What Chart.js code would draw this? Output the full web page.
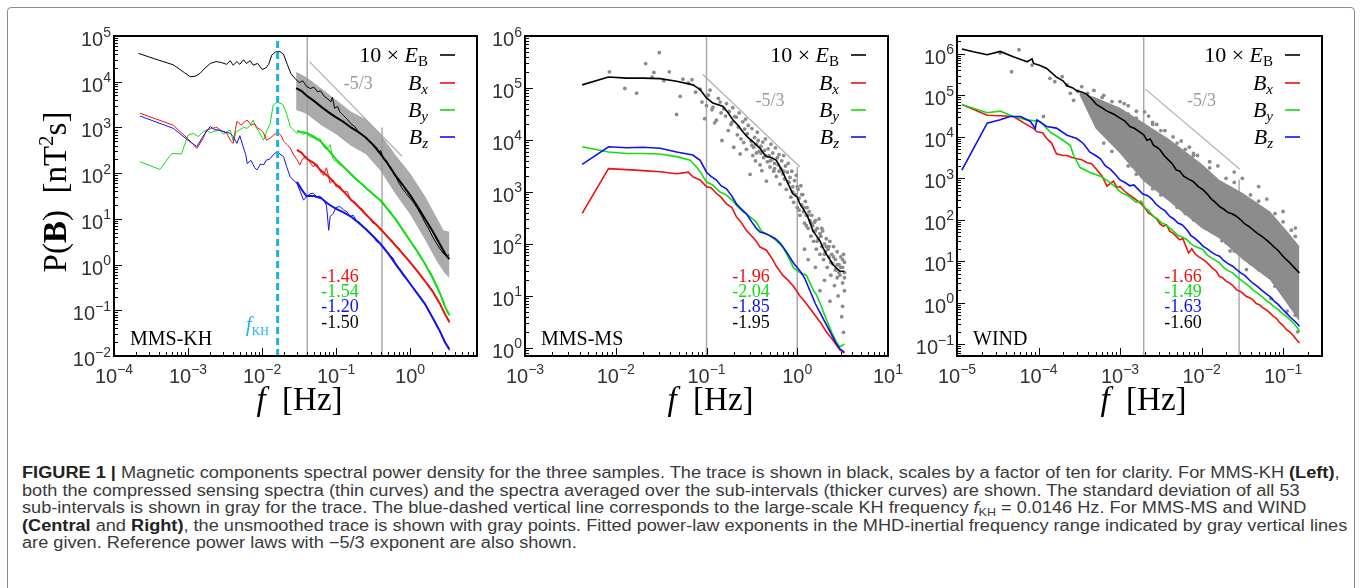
<!DOCTYPE html>
<html>
<head>
<meta charset="utf-8">
<script src="https://cdn.jsdelivr.net/npm/chart.js@4/dist/chart.umd.min.js"></script>
<style>
body { margin: 0; background: #fff; width: 1363px; height: 588px; overflow: hidden; position: relative; }
#frame { position: absolute; left: 7px; top: 7px; width: 1346px; height: 600px; border: 1.5px solid #8a8a8a; border-radius: 4px; }
canvas { position: absolute; top: 8px; }
#c1 { left: 8px; }
#c2 { left: 488px; }
#c3 { left: 912px; }
#caption { position: absolute; left: 22px; top: 464px; font-family: "Liberation Sans", Arial, sans-serif; font-size: 16px; line-height: 17.5px; color: #3a3a3a; white-space: nowrap; transform: scaleX(1.135); transform-origin: 0 0; }
#caption b { color: #222; }
#caption sub { font-size: 11px; line-height: 0; vertical-align: -3px; }
</style>
</head>
<body>
<div id="frame"></div>
<canvas id="c1" width="480" height="414"></canvas>
<canvas id="c2" width="424" height="414"></canvas>
<canvas id="c3" width="440" height="414"></canvas>
<div id="caption">
<div><b>FIGURE 1 |</b> Magnetic components spectral power density for the three samples. The trace is shown in black, scales by a factor of ten for clarity. For MMS-KH <b>(Left)</b>,</div>
<div>both the compressed sensing spectra (thin curves) and the spectra averaged over the sub-intervals (thicker curves) are shown. The standard deviation of all 53</div>
<div>sub-intervals is shown in gray for the trace. The blue-dashed vertical line corresponds to the large-scale KH frequency <i>f</i><sub>KH</sub> = 0.0146 Hz. For MMS-MS and WIND</div>
<div><b>(Central</b> and <b>Right)</b>, the unsmoothed trace is shown with gray points. Fitted power-law exponents in the MHD-inertial frequency range indicated by gray vertical lines</div>
<div>are given. Reference power laws with −5/3 exponent are also shown.</div>
</div>
<script>
// all series are [log10 f, log10 P]

// ---- MMS-KH (left) ----
var khTraceThin = [[-3.67,4.62],[-3.45,4.50],[-3.20,4.37],[-3.05,4.20],[-2.97,4.11],[-2.90,4.12],[-2.84,4.18],[-2.77,4.30],[-2.70,4.40],[-2.62,4.44],[-2.55,4.42],[-2.48,4.38],[-2.43,4.46],[-2.39,4.36],[-2.34,4.44],[-2.30,4.38],[-2.25,4.48],[-2.21,4.40],[-2.16,4.46],[-2.12,4.36],[-2.06,4.40],[-2.00,4.27],[-1.95,4.30],[-1.91,4.38],[-1.87,4.58],[-1.82,4.65],[-1.76,4.66],[-1.71,4.60],[-1.66,4.38],[-1.61,4.18],[-1.56,4.08],[-1.50,3.98],[-1.45,4.02],[-1.40,3.90],[-1.35,3.85],[-1.30,3.88],[-1.25,3.78],[-1.21,3.80],[-1.16,3.68],[-1.11,3.62],[-1.07,3.56],[-1.05,3.66],[-1.02,3.42],[-0.98,3.46],[-0.95,3.34],[-0.90,3.26],[-0.85,3.18],[-0.80,3.08],[-0.75,3.02],[-0.70,2.91],[-0.65,2.85],[-0.60,2.77],[-0.55,2.70],[-0.50,2.63],[-0.45,2.56],[-0.42,2.44],[-0.40,2.50],[-0.37,2.36],[-0.35,2.32],[-0.32,2.28],[-0.30,2.20],[-0.25,2.10],[-0.20,1.95],[-0.15,1.78],[-0.10,1.65],[-0.05,1.55],[0.00,1.45],[0.05,1.35],[0.10,1.22],[0.15,1.08],[0.20,0.92],[0.25,0.78],[0.30,0.62],[0.35,0.48],[0.40,0.35],[0.45,0.24],[0.50,0.18],[0.53,0.22]];
var khTraceAvg = [[-1.54,3.86],[-1.47,3.80],[-1.40,3.70],[-1.30,3.58],[-1.20,3.45],[-1.10,3.33],[-1.00,3.22],[-0.90,3.12],[-0.80,3.00],[-0.70,2.90],[-0.60,2.78],[-0.50,2.62],[-0.40,2.42],[-0.30,2.20],[-0.20,1.95],[-0.10,1.74],[0.00,1.52],[0.10,1.27],[0.20,1.00],[0.30,0.74],[0.40,0.45],[0.47,0.24],[0.53,0.12]];
var khTraceHi = [[-1.54,4.22],[-1.40,4.10],[-1.20,3.85],[-1.00,3.60],[-0.80,3.35],[-0.60,3.18],[-0.40,2.85],[-0.20,2.40],[0.00,2.00],[0.20,1.50],[0.35,1.05],[0.45,0.75],[0.53,0.72]];
var khTraceLo = [[-1.54,3.38],[-1.40,3.30],[-1.20,3.05],[-1.00,2.85],[-0.80,2.60],[-0.60,2.42],[-0.40,2.05],[-0.20,1.55],[0.00,1.10],[0.20,0.55],[0.35,0.10],[0.45,-0.15],[0.53,-0.30]];
var khBxThin = [[-3.65,3.31],[-3.20,3.05],[-3.00,2.75],[-2.88,2.54],[-2.80,2.75],[-2.75,2.94],[-2.68,2.98],[-2.61,3.00],[-2.55,2.92],[-2.48,2.88],[-2.43,2.72],[-2.39,2.65],[-2.36,2.95],[-2.34,3.13],[-2.28,3.05],[-2.24,3.12],[-2.20,3.16],[-2.15,3.05],[-2.10,3.08],[-2.07,3.00],[-2.02,2.95],[-1.98,2.88],[-1.94,2.72],[-1.88,2.78],[-1.83,2.85],[-1.78,2.88],[-1.74,2.82],[-1.71,2.70],[-1.66,2.62],[-1.62,2.55],[-1.58,2.42],[-1.53,2.30],[-1.49,2.18],[-1.45,2.32],[-1.40,2.36],[-1.36,2.25],[-1.31,2.14],[-1.26,2.20],[-1.22,2.05],[-1.17,1.95],[-1.13,2.12],[-1.08,1.78],[-1.04,1.85],[-1.00,1.70],[-0.95,1.72],[-0.90,1.58],[-0.85,1.60],[-0.80,1.40],[-0.75,1.38],[-0.70,1.25],[-0.65,1.22],[-0.60,1.08],[-0.55,1.02],[-0.50,0.90],[-0.45,0.88],[-0.40,0.75],[-0.35,0.70],[-0.30,0.58],[-0.25,0.54],[-0.20,0.42],[-0.15,0.36],[-0.10,0.22],[-0.05,0.16],[0.00,0.05],[0.05,-0.05],[0.10,-0.16],[0.15,-0.25],[0.20,-0.36],[0.25,-0.45],[0.30,-0.56],[0.35,-0.70],[0.40,-0.85],[0.45,-1.02],[0.50,-1.18],[0.53,-1.28]];
var khByThin = [[-3.65,2.25],[-3.38,2.08],[-3.22,2.43],[-3.09,2.42],[-3.00,2.83],[-2.93,2.87],[-2.86,2.80],[-2.80,2.90],[-2.75,2.94],[-2.70,2.88],[-2.64,2.92],[-2.57,2.94],[-2.52,2.85],[-2.46,2.92],[-2.43,2.94],[-2.39,2.70],[-2.35,2.90],[-2.30,2.95],[-2.25,3.00],[-2.20,2.98],[-2.16,3.05],[-2.12,3.16],[-2.08,3.00],[-2.04,2.90],[-1.98,2.72],[-1.93,2.95],[-1.89,3.09],[-1.85,3.49],[-1.80,3.55],[-1.76,3.53],[-1.72,3.50],[-1.69,3.40],[-1.65,3.20],[-1.62,3.02],[-1.58,2.95],[-1.53,2.87],[-1.49,2.92],[-1.45,2.85],[-1.40,2.88],[-1.36,2.80],[-1.31,2.78],[-1.26,2.72],[-1.22,2.76],[-1.17,2.58],[-1.13,2.52],[-1.08,2.62],[-1.04,2.30],[-1.00,2.25],[-0.95,2.18],[-0.90,2.15],[-0.85,2.05],[-0.81,1.98],[-0.76,1.90],[-0.72,1.88],[-0.67,1.78],[-0.63,1.75],[-0.58,1.66],[-0.54,1.62],[-0.49,1.52],[-0.45,1.48],[-0.40,1.40],[-0.36,1.36],[-0.31,1.22],[-0.27,1.18],[-0.22,1.02],[-0.18,0.98],[-0.13,0.82],[-0.09,0.75],[-0.04,0.60],[0.00,0.52],[0.05,0.38],[0.09,0.30],[0.14,0.15],[0.18,0.08],[0.23,-0.08],[0.27,-0.15],[0.32,-0.32],[0.36,-0.45],[0.41,-0.65],[0.45,-0.80],[0.50,-1.05],[0.53,-1.12]];
var khBzThin = [[-3.65,3.25],[-3.20,2.98],[-3.00,2.72],[-2.88,2.58],[-2.80,2.80],[-2.70,3.02],[-2.64,2.95],[-2.57,2.94],[-2.50,2.90],[-2.43,2.87],[-2.39,2.80],[-2.34,2.65],[-2.30,2.82],[-2.26,2.60],[-2.22,2.40],[-2.20,2.21],[-2.15,2.28],[-2.10,2.12],[-2.07,2.07],[-2.02,2.20],[-1.98,2.18],[-1.94,2.29],[-1.90,2.30],[-1.85,2.40],[-1.80,2.47],[-1.76,2.42],[-1.71,2.36],[-1.67,2.15],[-1.62,1.92],[-1.58,1.85],[-1.53,1.78],[-1.49,1.62],[-1.44,1.41],[-1.40,1.48],[-1.35,1.55],[-1.31,1.56],[-1.26,1.48],[-1.22,1.50],[-1.17,1.41],[-1.13,1.30],[-1.10,0.75],[-1.08,1.05],[-1.04,1.12],[-1.00,1.25],[-0.95,1.27],[-0.90,1.20],[-0.85,1.15],[-0.81,1.05],[-0.77,1.08],[-0.72,0.95],[-0.68,0.92],[-0.63,0.82],[-0.59,0.78],[-0.54,0.68],[-0.50,0.62],[-0.45,0.50],[-0.41,0.48],[-0.36,0.38],[-0.32,0.30],[-0.27,0.20],[-0.23,0.14],[-0.18,-0.05],[-0.14,-0.12],[-0.09,-0.25],[-0.05,-0.32],[0.00,-0.42],[0.04,-0.50],[0.09,-0.62],[0.13,-0.70],[0.18,-0.82],[0.22,-0.92],[0.27,-1.08],[0.31,-1.18],[0.36,-1.35],[0.40,-1.45],[0.45,-1.62],[0.49,-1.75],[0.53,-1.88]];
var khBxAvg = [[-1.53,2.51],[-1.47,2.45],[-1.40,2.32],[-1.30,2.22],[-1.20,2.05],[-1.10,1.92],[-1.00,1.75],[-0.90,1.60],[-0.80,1.42],[-0.70,1.27],[-0.60,1.10],[-0.50,0.94],[-0.40,0.78],[-0.30,0.60],[-0.20,0.42],[-0.10,0.24],[0.00,0.05],[0.10,-0.15],[0.20,-0.36],[0.30,-0.58],[0.40,-0.85],[0.47,-1.08],[0.53,-1.25]];
var khByAvg = [[-1.53,2.92],[-1.47,2.90],[-1.40,2.88],[-1.30,2.80],[-1.20,2.68],[-1.10,2.50],[-1.00,2.30],[-0.90,2.14],[-0.80,1.98],[-0.70,1.83],[-0.60,1.68],[-0.50,1.54],[-0.40,1.40],[-0.30,1.20],[-0.20,1.00],[-0.10,0.76],[0.00,0.52],[0.10,0.28],[0.20,0.02],[0.30,-0.28],[0.40,-0.62],[0.47,-0.92],[0.53,-1.10]];
var khBzAvg = [[-1.53,1.81],[-1.47,1.65],[-1.40,1.50],[-1.30,1.50],[-1.20,1.45],[-1.10,1.32],[-1.00,1.22],[-0.90,1.14],[-0.80,1.05],[-0.70,0.92],[-0.60,0.78],[-0.50,0.62],[-0.40,0.45],[-0.30,0.25],[-0.20,0.02],[-0.10,-0.20],[0.00,-0.42],[0.10,-0.64],[0.20,-0.86],[0.30,-1.15],[0.40,-1.45],[0.47,-1.70],[0.53,-1.85]];
var khFitLow = [[-1.39,-2],[-1.39,5]];
var khFitHigh = [[-0.38,-2],[-0.38,3.0]];
var khRefLaw = [[-1.36,4.44],[-0.11,2.37]];
var khKH = [[-1.79,-2],[-1.79,5]];
var khXTicks = [-4, -3, -2, -1, 0];
var khYTicks = [-2, -1, 0, 1, 2, 3, 4, 5];
var khFits = ['-1.46', '-1.54', '-1.20', '-1.50'];

// ---- MMS-MS (central) ----
var msTrace = [[-2.37,5.06],[-2.08,5.21],[-1.88,5.19],[-1.70,5.19],[-1.51,5.18],[-1.33,5.13],[-1.15,5.06],[-1.07,4.97],[-1.00,4.81],[-0.93,4.71],[-0.82,4.65],[-0.76,4.52],[-0.71,4.39],[-0.65,4.28],[-0.60,4.16],[-0.55,4.06],[-0.49,3.97],[-0.45,3.90],[-0.41,3.84],[-0.37,3.74],[-0.34,3.68],[-0.28,3.66],[-0.23,3.61],[-0.17,3.42],[-0.12,3.23],[-0.08,3.08],[-0.05,2.97],[0.00,2.90],[0.03,2.77],[0.07,2.66],[0.10,2.58],[0.14,2.42],[0.17,2.26],[0.21,2.16],[0.25,2.06],[0.28,1.94],[0.32,1.81],[0.36,1.70],[0.39,1.61],[0.43,1.54],[0.47,1.48],[0.52,1.47]];
var msBx = [[-2.37,2.59],[-2.08,3.45],[-1.88,3.43],[-1.70,3.41],[-1.51,3.39],[-1.33,3.35],[-1.20,3.38],[-1.15,3.29],[-1.07,3.23],[-1.00,3.10],[-0.95,3.08],[-0.89,2.97],[-0.84,2.90],[-0.78,2.77],[-0.72,2.70],[-0.67,2.52],[-0.62,2.42],[-0.56,2.26],[-0.50,2.15],[-0.45,2.05],[-0.41,1.94],[-0.34,1.88],[-0.27,1.70],[-0.23,1.57],[-0.16,1.40],[-0.10,1.30],[-0.04,1.18],[0.03,1.00],[0.08,0.90],[0.14,0.76],[0.20,0.62],[0.26,0.48],[0.32,0.31],[0.38,0.18],[0.43,0.06],[0.47,-0.04],[0.52,-0.10]];
var msBy = [[-2.37,3.87],[-2.08,3.77],[-1.88,3.74],[-1.70,3.74],[-1.51,3.73],[-1.33,3.68],[-1.18,3.61],[-1.11,3.48],[-1.07,3.39],[-1.00,3.19],[-0.96,3.16],[-0.93,3.13],[-0.85,3.00],[-0.78,2.94],[-0.72,2.85],[-0.67,2.74],[-0.60,2.62],[-0.56,2.58],[-0.49,2.48],[-0.45,2.42],[-0.40,2.26],[-0.38,2.23],[-0.30,2.15],[-0.24,2.08],[-0.16,1.95],[-0.10,1.75],[-0.04,1.54],[0.03,1.45],[0.10,1.40],[0.14,1.25],[0.18,1.10],[0.21,1.03],[0.26,0.82],[0.32,0.55],[0.38,0.30],[0.43,0.12],[0.47,0.02],[0.52,0.08]];
var msBz = [[-2.37,3.53],[-2.08,3.87],[-1.88,3.85],[-1.70,3.86],[-1.51,3.84],[-1.33,3.77],[-1.15,3.71],[-1.07,3.61],[-1.00,3.38],[-0.95,3.30],[-0.89,3.23],[-0.84,3.12],[-0.78,3.06],[-0.72,2.92],[-0.67,2.77],[-0.61,2.66],[-0.56,2.58],[-0.50,2.42],[-0.45,2.30],[-0.41,2.23],[-0.35,2.20],[-0.30,2.16],[-0.24,2.10],[-0.19,2.02],[-0.12,1.85],[-0.04,1.63],[0.03,1.48],[0.08,1.35],[0.14,1.10],[0.20,0.85],[0.26,0.65],[0.32,0.45],[0.38,0.25],[0.43,0.08],[0.47,-0.02],[0.52,-0.08]];
var msRaw = [[-2.07,5.31],[-1.90,4.99],[-1.77,4.90],[-1.67,5.47],[-1.60,5.21],[-1.58,5.30],[-1.52,5.68],[-1.47,5.14],[-1.41,5.31],[-1.33,4.49],[-1.29,4.84],[-1.26,5.17],[-1.20,5.10],[-1.16,5.16],[-1.12,4.92],[-1.07,4.98],[-1.05,4.73],[-1.02,4.41],[-1.00,4.66],[-0.98,4.86],[-0.96,4.96],[-0.94,4.58],[-0.93,4.63],[-0.91,4.33],[-0.89,4.38],[-0.87,4.80],[-0.85,4.73],[-0.84,4.52],[-0.83,3.99],[-0.81,4.60],[-0.79,4.46],[-0.78,4.70],[-0.76,4.18],[-0.75,4.55],[-0.73,4.30],[-0.72,4.34],[-0.71,4.62],[-0.70,3.86],[-0.69,4.45],[-0.67,4.44],[-0.66,4.10],[-0.65,4.25],[-0.64,4.52],[-0.63,3.73],[-0.62,4.02],[-0.60,4.35],[-0.59,3.95],[-0.58,4.21],[-0.57,4.40],[-0.56,3.82],[-0.55,4.12],[-0.54,4.28],[-0.52,3.34],[-0.51,3.98],[-0.50,4.22],[-0.49,3.70],[-0.48,3.86],[-0.47,4.05],[-0.46,3.60],[-0.45,3.92],[-0.44,4.15],[-0.43,3.99],[-0.42,3.78],[-0.41,3.52],[-0.40,3.88],[-0.39,3.41],[-0.38,3.96],[-0.37,3.66],[-0.36,3.80],[-0.35,4.02],[-0.34,3.21],[-0.33,3.58],[-0.32,3.83],[-0.31,3.70],[-0.30,3.48],[-0.29,3.92],[-0.28,3.62],[-0.27,3.75],[-0.26,3.40],[-0.25,3.55],[-0.24,3.85],[-0.23,3.30],[-0.22,3.66],[-0.21,3.52],[-0.20,3.72],[-0.19,3.15],[-0.18,3.45],[-0.17,3.60],[-0.16,3.35],[-0.15,3.70],[-0.14,3.25],[-0.13,3.50],[-0.12,3.05],[-0.11,3.38],[-0.10,3.55],[-0.09,3.18],[-0.08,3.28],[-0.07,2.90],[-0.06,3.40],[-0.05,3.10],[-0.04,2.80],[-0.03,3.22],[-0.02,2.95],[-0.01,3.32],[0.00,2.70],[0.01,3.05],[0.02,2.88],[0.03,2.55],[0.04,3.12],[0.05,2.75],[0.06,2.95],[0.07,2.62],[0.08,2.40],[0.09,2.82],[0.10,2.55],[0.11,2.70],[0.12,2.30],[0.13,2.62],[0.14,2.45],[0.15,2.15],[0.16,2.55],[0.17,2.35],[0.18,2.05],[0.19,2.42],[0.20,2.25],[0.21,1.90],[0.22,2.30],[0.23,2.10],[0.24,2.48],[0.25,1.80],[0.26,2.15],[0.27,1.95],[0.28,2.25],[0.29,1.70],[0.30,2.00],[0.31,1.85],[0.32,2.10],[0.33,1.55],[0.34,1.90],[0.35,1.75],[0.36,2.05],[0.37,1.40],[0.38,1.80],[0.39,1.62],[0.40,1.95],[0.41,1.20],[0.42,1.70],[0.43,1.50],[0.44,1.85],[0.45,1.00],[0.46,1.60],[0.47,1.40],[0.48,1.75],[0.49,0.60],[0.50,1.55],[0.50,1.25],[0.51,1.80],[0.51,0.30],[0.52,1.45],[0.52,1.65],[0.52,1.10],[0.08,1.90],[0.20,1.55],[0.30,1.30],[0.12,1.70],[0.25,1.10],[0.36,0.90],[0.44,1.35],[0.50,0.80],[-0.15,3.40],[-0.10,3.20],[-0.05,3.00],[0.00,3.10],[0.02,2.65],[0.05,2.95],[0.08,2.70],[0.10,2.35],[0.12,2.55],[0.15,2.40],[0.18,2.25],[0.20,2.45],[0.22,2.05],[0.25,2.20],[0.27,2.30],[0.30,1.80],[0.32,1.95],[0.35,1.95],[0.37,1.65],[0.40,1.75],[0.42,1.50],[0.44,1.60],[0.46,1.45],[0.48,1.55],[0.50,1.70],[0.52,1.35],[-0.30,3.60],[-0.25,3.45],[-0.20,3.40],[-0.35,3.70],[-0.40,3.75],[-0.45,3.75],[-0.50,3.90]];
var msFitLow = [[-1.00,-0.3],[-1.00,6]];
var msFitHigh = [[0.00,-0.3],[0.00,3.48]];
var msRefLaw = [[-1.04,5.26],[0.03,3.48]];
var msXTicks = [-3, -2, -1, 0, 1];
var msYTicks = [0, 1, 2, 3, 4, 5, 6];
var msFits = ['-1.96', '-2.04', '-1.85', '-1.95'];

// ---- WIND (right) ----
var windTrace = [[-4.94,6.12],[-4.80,6.05],[-4.63,5.98],[-4.47,6.06],[-4.31,5.93],[-4.20,5.85],[-4.14,5.81],[-4.08,5.88],[-4.06,5.77],[-3.98,5.72],[-3.90,5.65],[-3.78,5.44],[-3.70,5.35],[-3.65,5.23],[-3.58,5.18],[-3.53,5.11],[-3.47,5.08],[-3.41,5.03],[-3.35,4.92],[-3.29,4.78],[-3.22,4.70],[-3.16,4.62],[-3.08,4.55],[-3.00,4.45],[-2.94,4.38],[-2.88,4.25],[-2.82,4.20],[-2.76,4.12],[-2.71,4.05],[-2.67,3.92],[-2.63,3.95],[-2.59,3.80],[-2.55,3.75],[-2.51,3.69],[-2.46,3.55],[-2.41,3.45],[-2.36,3.35],[-2.31,3.20],[-2.27,3.18],[-2.22,3.05],[-2.16,2.98],[-2.10,2.92],[-2.04,2.80],[-1.98,2.72],[-1.93,2.62],[-1.88,2.50],[-1.83,2.42],[-1.78,2.32],[-1.73,2.26],[-1.68,2.18],[-1.62,2.14],[-1.57,2.08],[-1.52,2.00],[-1.47,1.90],[-1.42,1.84],[-1.37,1.76],[-1.32,1.68],[-1.26,1.60],[-1.21,1.52],[-1.16,1.44],[-1.11,1.34],[-1.06,1.26],[-1.01,1.14],[-0.96,1.04],[-0.91,0.95],[-0.86,0.84],[-0.82,0.76],[-0.80,0.72]];
var windBx = [[-4.94,4.78],[-4.63,4.52],[-4.47,4.51],[-4.31,4.49],[-4.14,4.29],[-4.06,4.20],[-4.02,4.12],[-3.95,4.10],[-3.90,3.96],[-3.84,3.85],[-3.78,3.59],[-3.70,3.55],[-3.65,3.55],[-3.59,3.50],[-3.53,3.47],[-3.47,3.45],[-3.41,3.38],[-3.35,3.35],[-3.29,3.22],[-3.22,3.05],[-3.16,2.81],[-3.12,2.88],[-3.08,2.93],[-3.04,2.78],[-3.00,2.80],[-2.95,2.70],[-2.90,2.62],[-2.85,2.55],[-2.80,2.48],[-2.75,2.40],[-2.70,2.30],[-2.65,2.16],[-2.60,2.10],[-2.55,2.02],[-2.51,1.90],[-2.47,1.84],[-2.43,1.88],[-2.39,1.72],[-2.35,1.68],[-2.31,1.60],[-2.27,1.52],[-2.23,1.55],[-2.20,1.40],[-2.16,1.20],[-2.12,1.30],[-2.08,1.18],[-2.03,1.10],[-1.98,1.04],[-1.94,0.98],[-1.90,0.90],[-1.86,0.82],[-1.82,0.76],[-1.78,0.63],[-1.74,0.60],[-1.70,0.52],[-1.66,0.48],[-1.62,0.42],[-1.57,0.31],[-1.53,0.28],[-1.49,0.22],[-1.45,0.15],[-1.41,0.12],[-1.37,0.07],[-1.33,-0.02],[-1.29,-0.05],[-1.25,-0.12],[-1.20,-0.18],[-1.16,-0.25],[-1.12,-0.32],[-1.08,-0.38],[-1.04,-0.48],[-1.00,-0.55],[-0.96,-0.65],[-0.92,-0.70],[-0.88,-0.78],[-0.84,-0.88],[-0.80,-0.97]];
var windBy = [[-4.94,4.78],[-4.63,4.58],[-4.47,4.62],[-4.31,4.49],[-4.14,4.41],[-3.98,4.37],[-3.86,4.12],[-3.73,3.96],[-3.61,3.79],[-3.57,3.55],[-3.49,3.26],[-3.37,3.14],[-3.24,3.05],[-3.16,2.95],[-3.12,2.89],[-3.06,2.80],[-3.00,2.68],[-2.95,2.62],[-2.90,2.58],[-2.85,2.50],[-2.80,2.42],[-2.74,2.45],[-2.70,2.30],[-2.65,2.22],[-2.59,2.08],[-2.54,2.02],[-2.49,1.92],[-2.44,1.88],[-2.39,1.80],[-2.34,1.72],[-2.29,1.62],[-2.23,1.58],[-2.18,1.52],[-2.13,1.42],[-2.08,1.36],[-2.03,1.32],[-1.98,1.28],[-1.93,1.15],[-1.88,1.08],[-1.83,1.02],[-1.78,0.96],[-1.73,0.85],[-1.68,0.78],[-1.62,0.72],[-1.57,0.63],[-1.52,0.55],[-1.47,0.48],[-1.42,0.40],[-1.37,0.31],[-1.32,0.24],[-1.26,0.15],[-1.21,0.06],[-1.16,-0.01],[-1.11,-0.10],[-1.06,-0.16],[-1.01,-0.26],[-0.96,-0.33],[-0.91,-0.42],[-0.86,-0.52],[-0.82,-0.62],[-0.80,-0.69]];
var windBz = [[-4.94,3.20],[-4.63,4.33],[-4.47,4.41],[-4.35,4.49],[-4.22,4.49],[-4.10,4.37],[-4.04,4.20],[-4.02,4.41],[-3.90,4.25],[-3.78,4.21],[-3.65,4.04],[-3.53,3.96],[-3.45,3.84],[-3.37,3.63],[-3.30,3.55],[-3.24,3.47],[-3.18,3.30],[-3.12,3.22],[-3.06,3.10],[-3.00,2.96],[-2.94,2.90],[-2.88,2.82],[-2.83,2.84],[-2.78,2.74],[-2.72,2.62],[-2.66,2.58],[-2.61,2.50],[-2.56,2.38],[-2.50,2.28],[-2.45,2.22],[-2.39,2.08],[-2.34,2.02],[-2.29,1.92],[-2.24,1.88],[-2.18,1.76],[-2.13,1.62],[-2.08,1.55],[-2.03,1.46],[-1.98,1.36],[-1.93,1.30],[-1.88,1.22],[-1.83,1.16],[-1.78,1.12],[-1.73,1.02],[-1.68,0.95],[-1.62,0.88],[-1.57,0.80],[-1.52,0.72],[-1.47,0.66],[-1.42,0.56],[-1.37,0.47],[-1.32,0.40],[-1.26,0.30],[-1.21,0.22],[-1.16,0.15],[-1.11,0.04],[-1.06,-0.04],[-1.01,-0.15],[-0.96,-0.25],[-0.91,-0.35],[-0.86,-0.44],[-0.82,-0.52],[-0.80,-0.57]];
var windRawHi = [[-3.50,5.08],[-3.30,4.95],[-3.00,4.70],[-2.72,4.35],[-2.40,3.95],[-2.00,3.35],[-1.78,2.96],[-1.50,2.65],[-1.16,2.20],[-0.96,1.75],[-0.80,1.36]];
var windRawLo = [[-3.50,5.02],[-3.30,4.20],[-3.00,3.60],[-2.72,2.95],[-2.40,2.45],[-2.00,1.80],[-1.78,1.55],[-1.50,1.05],[-1.16,0.55],[-0.96,0.00],[-0.80,-0.45]];
var windRaw = [[-4.47,6.02],[-4.24,6.10],[-4.33,5.57],[-4.08,5.73],[-3.94,4.49],[-3.86,5.41],[-3.80,5.33],[-3.71,5.45],[-3.65,5.25],[-3.61,5.05],[-3.57,4.88],[-3.52,5.10],[-3.47,5.21],[-3.43,4.95],[-3.40,5.05],[-3.37,4.70],[-3.35,4.92],[-3.32,5.12],[-3.28,4.80],[-3.25,4.60],[-3.22,4.95],[-3.18,4.45],[-3.15,4.72],[-3.10,4.85],[-3.06,4.35],[-3.02,4.62],[-2.98,4.20],[-2.95,4.80],[-2.90,4.55],[-2.85,3.30],[-2.80,4.45],[-2.76,3.22],[-2.70,4.60],[-2.65,4.50],[-2.60,4.35],[-2.55,4.30],[-2.50,3.95],[-2.45,4.15],[-2.35,4.00],[-2.30,2.40],[-2.25,3.90],[-2.20,2.20],[-2.15,3.75],[-2.10,3.60],[-2.05,3.55],[-1.95,1.90],[-1.90,3.40],[-1.80,3.30],[-1.75,1.50],[-1.60,3.15],[-1.50,3.00],[-1.45,0.80],[-1.30,2.80],[-1.20,2.50],[-1.15,0.10],[-1.00,2.20],[-0.95,-0.20],[-0.85,1.80],[-0.82,-0.70],[-2.62,3.10],[-2.40,2.60],[-1.65,1.25],[-1.05,0.35],[-3.20,5.00],[-3.00,4.85],[-2.90,4.75],[-2.80,4.62],[-2.60,4.30],[-2.50,4.15],[-2.30,3.85],[-2.20,3.70],[-2.10,3.55],[-1.90,3.25],[-1.70,3.00],[-1.60,2.90],[-1.40,2.60],[-1.30,2.45],[-1.10,2.15],[-1.00,1.95],[-0.90,1.75],[-0.85,1.60],[-3.20,3.85],[-3.10,3.65],[-2.90,3.30],[-2.80,3.10],[-2.60,2.75],[-2.50,2.60],[-2.30,2.30],[-2.20,2.15],[-2.10,2.00],[-1.90,1.75],[-1.70,1.45],[-1.60,1.25],[-1.40,0.95],[-1.30,0.80],[-1.10,0.40],[-1.00,0.20],[-0.90,-0.10],[-0.85,-0.30]];
var windFitLow = [[-2.71,-1.4],[-2.71,6.5]];
var windFitHigh = [[-1.54,-1.4],[-1.54,2.97]];
var windRefLaw = [[-2.69,5.15],[-1.53,3.22]];
var windXTicks = [-5, -4, -3, -2, -1];
var windYTicks = [-1, 0, 1, 2, 3, 4, 5, 6];
var windFits = ['-1.66', '-1.49', '-1.63', '-1.60'];

var RED = '#ee1111', GREEN = '#11dd11', BLUE = '#1111ee', GREY = '#aaaaaa', DOTS = '#8c8c8c';
var SERIF = '"Liberation Serif", "Times New Roman", serif';
var SANS = '"Liberation Sans", Arial, sans-serif';

function pts(arr) {
    return arr.map(function (p) { return { x: Math.pow(10, p[0]), y: Math.pow(10, p[1]) }; });
}

function curve(arr, color, width, order, extra) {
    return Object.assign({
        data: pts(arr), borderColor: color, backgroundColor: color, borderWidth: width,
        pointRadius: 0, pointHoverRadius: 0, fill: false, tension: 0, order: order
    }, extra || {});
}

function dots(arr, order) {
    return { data: pts(arr), showLine: false, pointRadius: 1.9, pointBorderWidth: 0,
        pointBackgroundColor: DOTS, borderColor: DOTS, backgroundColor: DOTS, order: order };
}

// text made of runs: [text, font, dy]
function drawRuns(ctx, runs, x, y, align, color) {
    ctx.fillStyle = color;
    ctx.textAlign = 'left';
    ctx.textBaseline = 'alphabetic';
    var w = 0;
    runs.forEach(function (r) { ctx.font = r[1]; w += ctx.measureText(r[0]).width; });
    var cx = align === 'right' ? x - w : (align === 'center' ? x - w / 2 : x);
    runs.forEach(function (r) {
        ctx.font = r[1];
        ctx.fillText(r[0], cx, y + (r[2] || 0));
        cx += ctx.measureText(r[0]).width;
    });
}

function powRuns(e) {
    var s = e < 0 ? '\u2212' + (-e) : String(e);
    return [['10', '20px ' + SANS], [s, '14px ' + SANS, -9.5]];
}

var legendRuns = [
    [['10 \u00d7 ', '22px ' + SERIF], ['E', 'italic 22px ' + SERIF], ['B', '15px ' + SERIF, 4]],
    [['B', 'italic 22px ' + SERIF], ['x', 'italic 15px ' + SERIF, 4]],
    [['B', 'italic 22px ' + SERIF], ['y', 'italic 15px ' + SERIF, 4]],
    [['B', 'italic 22px ' + SERIF], ['z', 'italic 15px ' + SERIF, 4]]
];
var legendColors = ['#000', RED, GREEN, BLUE];
var fitColors = [RED, GREEN, BLUE, '#000'];

var decor = {
    id: 'decor',
    afterDraw: function (chart) {
        var o = chart.options.plugins.decor;
        var ctx = chart.ctx, a = chart.chartArea, xs = chart.scales.x, ys = chart.scales.y;
        ctx.save();

        // inward ticks on bottom and left
        ctx.strokeStyle = '#000';
        ctx.lineWidth = 1;
        [[xs, true], [ys, false]].forEach(function (s) {
            var sc = s[0];
            for (var k = Math.floor(Math.log10(sc.min)); k <= Math.ceil(Math.log10(sc.max)); k++) {
                for (var m = 1; m < 10; m++) {
                    var v = m * Math.pow(10, k);
                    if (v < sc.min * 0.999 || v > sc.max * 1.001) continue;
                    var len = m === 1 ? 8 : 4;
                    var p = Math.round(sc.getPixelForValue(v)) + 0.5;
                    ctx.beginPath();
                    if (s[1]) { ctx.moveTo(p, a.bottom); ctx.lineTo(p, a.bottom - len); }
                    else { ctx.moveTo(a.left, p); ctx.lineTo(a.left + len, p); }
                    ctx.stroke();
                }
            }
        });

        ctx.lineWidth = 2;
        ctx.strokeRect(a.left, a.top, a.right - a.left, a.bottom - a.top);

        o.xTicks.forEach(function (e) {
            drawRuns(ctx, powRuns(e), xs.getPixelForValue(Math.pow(10, e)), a.bottom + 27, 'center', '#333');
        });
        o.yTicks.forEach(function (e) {
            drawRuns(ctx, powRuns(e), a.left - 3, ys.getPixelForValue(Math.pow(10, e)) + 10, 'right', '#333');
        });

        // axis titles
        var big = '33px ' + SERIF;
        drawRuns(ctx, [['f', 'italic ' + big], ['\u2002[Hz]', big]], (a.left + a.right) / 2 + 4, a.bottom + 54, 'center', '#000');
        if (o.yTitle) {
            ctx.save();
            ctx.translate(58, (a.top + a.bottom) / 2 - 4);
            ctx.rotate(-Math.PI / 2);
            drawRuns(ctx, [['P(', big], ['B', 'bold ' + big], [')\u2002[nT', big], ['2', '21px ' + SERIF, -13], ['s]', big]], 0, 0, 'center', '#000');
            ctx.restore();
        }

        // legend
        [19, 47, 74, 101].forEach(function (dy, i) {
            var cy = a.top + dy;
            drawRuns(ctx, legendRuns[i], a.right - 49, cy + 7, 'right', '#000');
            ctx.strokeStyle = legendColors[i];
            ctx.lineWidth = 1.6;
            ctx.beginPath();
            ctx.moveTo(a.right - 37, cy);
            ctx.lineTo(a.right - 22, cy);
            ctx.stroke();
        });

        // fitted exponents: Bx, By, Bz, trace
        [246, 261, 276, 292].forEach(function (dy, i) {
            drawRuns(ctx, [[o.fits[i], '18px ' + SERIF]], a.left + 226, a.top + dy, 'center', fitColors[i]);
        });

        drawRuns(ctx, [[o.name, '20px ' + SERIF]], a.left + 16, a.top + 309, 'left', '#000');
        drawRuns(ctx, [['-5/3', '18px ' + SERIF]], xs.getPixelForValue(Math.pow(10, o.slopeAt[0])),
            ys.getPixelForValue(Math.pow(10, o.slopeAt[1])) + 6, 'center', '#999');
        if (o.fkh) {
            drawRuns(ctx, [['f', 'italic 20px ' + SERIF], ['KH', '12px ' + SERIF, 4]], a.left + 155, a.top + 295, 'right', '#1ab2e6');
        }
        ctx.restore();
    }
};

function makePanel(id, datasets, xr, yr, pad, deco) {
    return new Chart(document.getElementById(id), {
        type: 'line',
        data: { datasets: datasets },
        options: {
            responsive: false,
            animation: false,
            devicePixelRatio: 1,
            events: [],
            layout: { padding: pad },
            scales: {
                x: { type: 'logarithmic', min: xr[0], max: xr[1], display: false },
                y: { type: 'logarithmic', min: yr[0], max: yr[1], display: false }
            },
            plugins: { legend: { display: false }, tooltip: { enabled: false }, decor: deco }
        },
        plugins: [decor]
    });
}

// left
makePanel('c1', [
    curve(khKH, '#1ab2e6', 3, -1, { borderDash: [7, 4] }),
    curve(khTraceAvg, '#000', 2, 0),
    curve(khTraceThin, '#000', 1, 1),
    curve(khBzAvg, BLUE, 2, 2),
    curve(khBxAvg, RED, 2, 3),
    curve(khByAvg, GREEN, 2, 4),
    curve(khBzThin, BLUE, 1, 5),
    curve(khBxThin, RED, 1, 6),
    curve(khByThin, GREEN, 1, 7),
    curve(khTraceHi, 'rgba(0,0,0,0)', 0, 9, { fill: '+1', backgroundColor: 'rgba(150,150,150,0.8)' }),
    curve(khTraceLo, 'rgba(0,0,0,0)', 0, 9),
    curve(khFitLow, GREY, 1.5, 10),
    curve(khFitHigh, GREY, 1.5, 10),
    curve(khRefLaw, '#b0b0b0', 1.2, 10)
], [1e-4, 8], [1e-2, 1e5], { left: 106, right: 11, top: 28, bottom: 66 },
    { xTicks: khXTicks, yTicks: khYTicks, fits: khFits, name: 'MMS-KH', slopeAt: [-0.70, 3.97], yTitle: true, fkh: true });

// central
makePanel('c2', [
    curve(msTrace, '#000', 1.6, 0),
    curve(msBz, BLUE, 1.6, 1),
    curve(msBy, GREEN, 1.6, 2),
    curve(msBx, RED, 1.6, 3),
    dots(msRaw, 5),
    curve(msFitLow, GREY, 1.5, 8),
    curve(msFitHigh, GREY, 1.5, 8),
    curve(msRefLaw, '#b0b0b0', 1.2, 8)
], [1e-3, 10], [0.7, 1e6], { left: 37, right: 24, top: 28, bottom: 66 },
    { xTicks: msXTicks, yTicks: msYTicks, fits: msFits, name: 'MMS-MS', slopeAt: [-0.30, 4.77] });

// right
makePanel('c3', [
    curve(windTrace, '#000', 1.6, 0),
    curve(windBz, BLUE, 1.6, 1),
    curve(windBy, GREEN, 1.6, 2),
    curve(windBx, RED, 1.6, 3),
    dots(windRaw, 5),
    curve(windRawHi, 'rgba(0,0,0,0)', 0, 6, { fill: '+1', backgroundColor: DOTS }),
    curve(windRawLo, 'rgba(0,0,0,0)', 0, 6),
    curve(windFitLow, GREY, 1.5, 8),
    curve(windFitHigh, GREY, 1.5, 8),
    curve(windRefLaw, '#b0b0b0', 1.2, 8)
], [1e-5, 0.3], [0.052, 2.7e6], { left: 45, right: 30, top: 28, bottom: 66 },
    { xTicks: windXTicks, yTicks: windYTicks, fits: windFits, name: 'WIND', slopeAt: [-2.0, 4.89] });
</script>
</body>
</html>
